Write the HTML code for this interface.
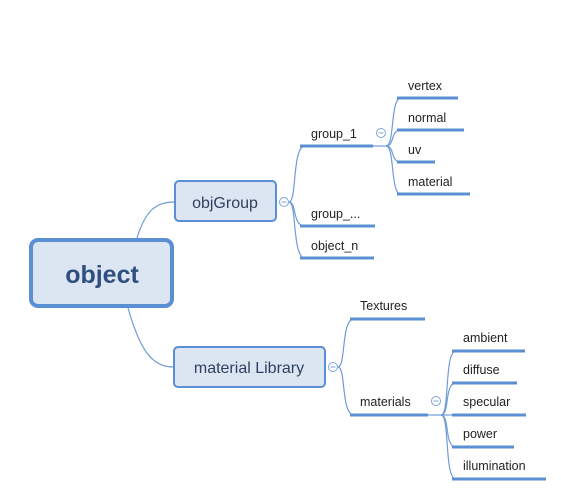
<!DOCTYPE html>
<html><head><meta charset="utf-8"><style>
html,body{margin:0;padding:0;background:#fff;}
svg{display:block;}
text{font-family:"Liberation Sans","DejaVu Sans",sans-serif;}
</style></head><body>
<svg width="561" height="502" viewBox="0 0 561 502" xmlns="http://www.w3.org/2000/svg">
<g fill="none" stroke="#6f9bd8" stroke-width="1.2">
<!-- root connectors -->
<path d="M137,238 C145,212 155,202 174,202"/>
<path d="M128,308 C140,350 152,367 173,367"/>
<!-- objGroup children -->
<path d="M289,202 C297,202 292,146 305,146"/>
<path d="M289,202 C297,202 292,226 305,226"/>
<path d="M289,202 C297,202 292,258 305,258"/>
<!-- group_1 children -->
<path d="M373,146 L386,146"/>
<path d="M386,146 C395,146 390,98 401,98"/>
<path d="M386,146 C395,146 390,130 401,130"/>
<path d="M386,146 C395,146 390,162 401,162"/>
<path d="M386,146 C395,146 390,194 401,194"/>
<!-- material Library children -->
<path d="M338,367 C346,367 341,319 354,319"/>
<path d="M338,367 C346,367 341,415 354,415"/>
<!-- materials children -->
<path d="M428,415 L441,415"/>
<path d="M441,415 C450,415 444,351 456,351"/>
<path d="M441,415 C450,415 444,383 456,383"/>
<path d="M441,415 C450,415 444,415 456,415"/>
<path d="M441,415 C450,415 444,447 456,447"/>
<path d="M441,415 C450,415 444,479 456,479"/>
</g>
<!-- underlines -->
<g stroke="#5b8fd3" stroke-width="3" stroke-linecap="butt">
<line x1="300" y1="146" x2="373" y2="146"/>
<line x1="300" y1="226" x2="375" y2="226"/>
<line x1="300" y1="258" x2="374" y2="258"/>
<line x1="397" y1="98" x2="458" y2="98"/>
<line x1="397" y1="130" x2="464" y2="130"/>
<line x1="397" y1="162" x2="435" y2="162"/>
<line x1="397" y1="194" x2="470" y2="194"/>
<line x1="350" y1="319" x2="425" y2="319"/>
<line x1="350" y1="415" x2="428" y2="415"/>
<line x1="452" y1="351" x2="525" y2="351"/>
<line x1="452" y1="383" x2="517" y2="383"/>
<line x1="452" y1="415" x2="526" y2="415"/>
<line x1="452" y1="447" x2="514" y2="447"/>
<line x1="452" y1="479" x2="546" y2="479"/>
</g>
<!-- boxes -->
<rect x="31" y="240" width="141" height="66" rx="7" fill="#dce6f3" stroke="#5b8fd3" stroke-width="4"/>
<rect x="175" y="181" width="101" height="40" rx="4" fill="#dce6f3" stroke="#5b8fd3" stroke-width="2"/>
<rect x="174" y="347" width="151" height="40" rx="4" fill="#dce6f3" stroke="#5b8fd3" stroke-width="2"/>
<!-- collapse icons -->
<g fill="#fff" stroke="#7ea5dc" stroke-width="1">
<circle cx="284" cy="202" r="4.5"/>
<circle cx="381" cy="133" r="4.5"/>
<circle cx="333" cy="367" r="4.5"/>
<circle cx="436" cy="401" r="4.5"/>
</g>
<g stroke="#7ea5dc" stroke-width="1">
<line x1="281.5" y1="202" x2="286.5" y2="202"/>
<line x1="378.5" y1="133" x2="383.5" y2="133"/>
<line x1="330.5" y1="367" x2="335.5" y2="367"/>
<line x1="433.5" y1="401" x2="438.5" y2="401"/>
</g>
<!-- texts -->
<text x="102" y="283" font-size="25" font-weight="bold" fill="#2f4f7f" text-anchor="middle">object</text>
<text x="225" y="208" font-size="16" fill="#2f3f5f" text-anchor="middle">objGroup</text>
<text x="249" y="373" font-size="16" fill="#2f3f5f" text-anchor="middle">material Library</text>
<g font-size="12.5" fill="#222">
<text x="311" y="138">group_1</text>
<text x="311" y="218">group_...</text>
<text x="311" y="250">object_n</text>
<text x="408" y="90">vertex</text>
<text x="408" y="122">normal</text>
<text x="408" y="154">uv</text>
<text x="408" y="186">material</text>
<text x="360" y="310">Textures</text>
<text x="360" y="406">materials</text>
<text x="463" y="342">ambient</text>
<text x="463" y="374">diffuse</text>
<text x="463" y="406">specular</text>
<text x="463" y="438">power</text>
<text x="463" y="470">illumination</text>
</g>
</svg>
</body></html>
